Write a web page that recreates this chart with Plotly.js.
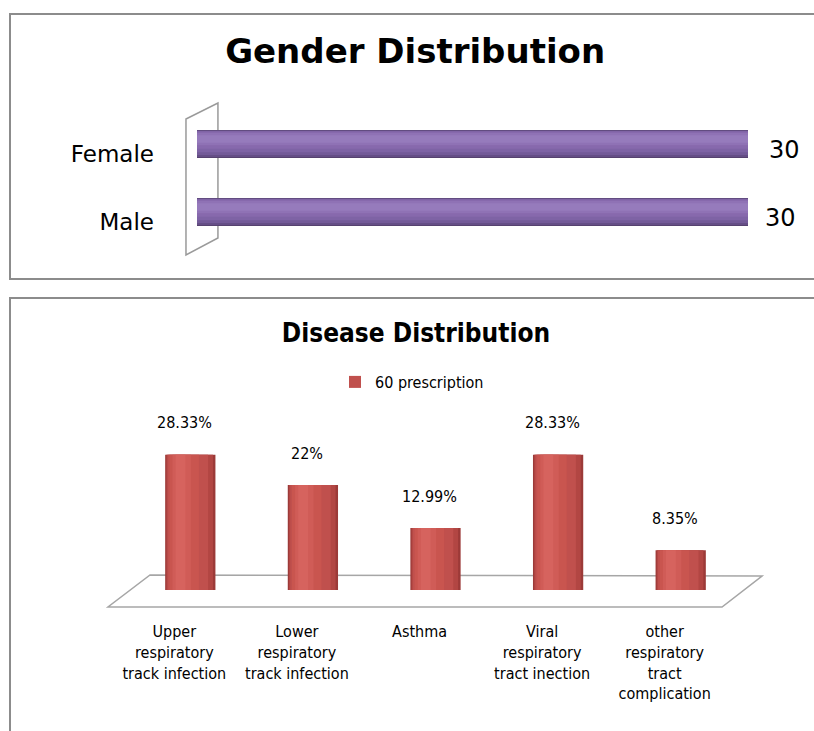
<!DOCTYPE html>
<html>
<head>
<meta charset="utf-8">
<script src="https://cdn.plot.ly/plotly-3.0.1.min.js"></script>
<style>
  html, body { margin:0; padding:0; background:#fff; width:814px; height:731px; overflow:hidden; }
  #top { position:absolute; left:0; top:0; width:814px; height:290px; }
  #bottom { position:absolute; left:0; top:290px; width:814px; height:441px; }
  .frame { position:absolute; pointer-events:none; border:2px solid #8c8c8c; border-right:none; }
</style>
</head>
<body>
<div id="top"></div>
<div id="bottom"></div>
<div class="frame" style="left:9px; top:13px; width:820px; height:263px;"></div>
<div class="frame" style="left:9px; top:297px; width:820px; height:450px;"></div>
<script>
// ---------- data ----------
const genderCategories = ['Male', 'Female'];
const genderValues = [30, 30];

const diseaseCategories = [
  'Upper<br>respiratory<br>track infection',
  'Lower<br>respiratory<br>track infection',
  'Asthma',
  'Viral<br>respiratory<br>tract inection',
  'other<br>respiratory<br>tract<br>complication'
];
const diseaseValues = [28.33, 22, 12.99, 28.33, 8.35];
const seriesName = '60 prescription';

const narrow = '"Liberation Sans Narrow", "DejaVu Sans Condensed", "Open Sans", sans-serif';

// ---------- top: Gender Distribution ----------
const purpleLayers = [
  {offset:-0.205, width:0.41, color:'#56426f'},
  {offset:-0.19,  width:0.39, color:'#654e86'},
  {offset:-0.16,  width:0.355, color:'#735a98'},
  {offset:-0.12,  width:0.31, color:'#7e63a5'},
  {offset:-0.07,  width:0.25, color:'#8769ad'},
  {offset:-0.02,  width:0.18, color:'#8f72b5'},
  {offset:0.02,   width:0.11, color:'#967bbc'}
];
const topTraces = purpleLayers.map(L => ({
  type:'bar', orientation:'h',
  x: genderValues, y: genderCategories,
  offset: L.offset, width: L.width,
  marker:{color:L.color, line:{width:0}},
  showlegend:false, hoverinfo:'skip'
}));

const topAnnotations = genderCategories.map((c, i) => ({
  x: genderValues[i], y: c, xref:'x', yref:'y',
  text: String(genderValues[i]), showarrow:false,
  xanchor:'left', yanchor:'middle', xshift: i === 1 ? 19 : 15, yshift: -6,
  font:{family:'"DejaVu Sans", Verdana, sans-serif', size:24, color:'#000'}
}));

const topLayout = {
  width:814, height:290,
  margin:{l:197, r:66, t:110, b:44},
  paper_bgcolor:'rgba(0,0,0,0)', plot_bgcolor:'rgba(0,0,0,0)',
  barmode:'overlay',
  title:{text:'<b>Gender Distribution</b>', x:0.51, xref:'container', xanchor:'center',
         y:1-51/290, yref:'container', yanchor:'middle',
         font:{family:'"DejaVu Sans", sans-serif', size:34, color:'#000'}},
  xaxis:{range:[0,30], visible:false, fixedrange:true},
  yaxis:{type:'category', categoryorder:'array', categoryarray:genderCategories,
         range:[-0.5,1.5], showgrid:false, zeroline:false, showline:false, ticks:'',
         ticklabelstandoff:42, ticklabelshift:10,
         tickfont:{family:'"DejaVu Sans", Verdana, sans-serif', size:23, color:'#000'}},
  shapes:[{
    type:'path', xref:'paper', yref:'paper', layer:'below',
    path:'M -0.020 0.934 L 0.038 1.051 L 0.038 0.059 L -0.020 -0.066 Z',
    line:{color:'#9a9a9a', width:1.5}, fillcolor:'#ffffff'
  }],
  annotations: topAnnotations,
  showlegend:false
};

Plotly.newPlot('top', topTraces, topLayout, {staticPlot:true, displayModeBar:false});

// ---------- bottom: Disease Distribution ----------
const redLayers = [
  {offset:-0.205, width:0.41, color:'#9c3a38', legend:false},
  {offset:-0.195, width:0.38, color:'#b24643', legend:false},
  {offset:-0.185, width:0.33, color:'#c0504d', legend:true},
  {offset:-0.17,  width:0.24, color:'#c9554f', legend:false},
  {offset:-0.145, width:0.15, color:'#d05c57', legend:false},
  {offset:-0.12,  width:0.08, color:'#d6635e', legend:false}
];
const bottomTraces = redLayers.map(L => ({
  type:'bar', x: diseaseCategories, y: diseaseValues,
  offset: L.offset, width: L.width,
  marker:{color:L.color, line:{width:0}},
  name: seriesName, showlegend: L.legend, hoverinfo:'skip'
}));

const bottomAnnotations = diseaseCategories.map((c, i) => ({
  x: c, y: diseaseValues[i], xref:'x', yref:'y',
  text: diseaseValues[i] + '%', showarrow:false,
  xanchor:'center', yanchor:'middle', xshift:-6, yshift:32,
  font:{family:narrow, size:16, color:'#000'}
}));

const bottomLayout = {
  width:814, height:441,
  margin:{l:129, r:72, t:133, b:141},
  paper_bgcolor:'rgba(0,0,0,0)', plot_bgcolor:'rgba(0,0,0,0)',
  barmode:'overlay',
  title:{text:'<b>Disease Distribution</b>', x:0.511, xref:'container', xanchor:'center',
         y:1-43/441, yref:'container', yanchor:'middle',
         font:{family:narrow, size:26, color:'#000'}},
  legend:{orientation:'h', xref:'container', yref:'container', x:412/814, xanchor:'center',
          y:1-92/441, yanchor:'middle',
          font:{family:narrow, size:16, color:'#000'}, itemwidth:30},
  xaxis:{type:'category', showgrid:false, zeroline:false, showline:false, ticks:'',
         ticklabelstandoff:30, ticklabelshift:-16,
         tickfont:{family:narrow, size:16, color:'#000'}},
  yaxis:{range:[0,35], visible:false},
  shapes:[{
    type:'path', xref:'paper', yref:'paper', layer:'below',
    path:'M -0.0343 -0.1018 L 0.9674 -0.1018 L 1.0326 0.0838 L 0.0343 0.0898 Z',
    line:{color:'#a6a6a6', width:1.5}, fillcolor:'#ffffff'
  }],
  annotations: bottomAnnotations
};

Plotly.newPlot('bottom', bottomTraces, bottomLayout, {staticPlot:true, displayModeBar:false});
</script>
</body>
</html>
